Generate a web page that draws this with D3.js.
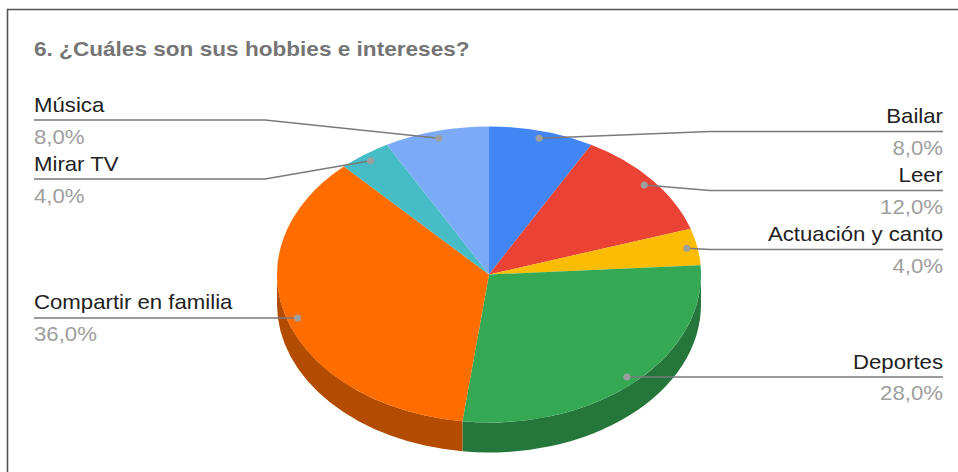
<!DOCTYPE html>
<html>
<head>
<meta charset="utf-8">
<script src="https://cdn.jsdelivr.net/npm/d3@7"></script>
<style>
  html, body { margin: 0; padding: 0; background: #fff; }
  svg { display: block; font-family: "Liberation Sans", Arial, sans-serif; }
</style>
</head>
<body>
<svg id="chart" width="958" height="472"></svg>
<script>
// Survey answers, clockwise from 12 o'clock
const categories = ["Bailar", "Leer", "Actuación y canto", "Deportes", "Compartir en familia", "Mirar TV", "Música"];
const values = [8, 12, 4, 28, 36, 4, 8];
const colors = ["#4285f4", "#ea4335", "#fbbc04", "#34a853", "#ff6d01", "#46bdc6", "#7baaf7"];
const title = "6. ¿Cuáles son sus hobbies e intereses?";

const W = 958, H = 472;
const svg = d3.select("#chart");

// Frame
svg.append("path")
  .attr("d", `M7.5,${H} L7.5,9.5 L${W},9.5`)
  .attr("fill", "none").attr("stroke", "#555").attr("stroke-width", 1.6);

// Title (slightly widened glyphs)
svg.append("g").attr("transform", "translate(34,56) scale(1.13,1)")
  .append("text").text(title)
  .attr("font-size", 20).attr("font-weight", "bold").attr("fill", "#757575");

// Pie geometry: tilted disc drawn as a circle squashed vertically
const cx = 489, cy = 274.5, rx = 212, ry = 148, depth = 30;
const k = ry / rx;
const total = d3.sum(values);
const locale = d3.formatLocale({ decimal: ",", thousands: ".", grouping: [3], currency: ["", "€"] });
const fmt = locale.format(".1f");

const arcs = d3.pie().sort(null).value(d => d)(values);
const arcGen = d3.arc().innerRadius(0).outerRadius(rx);

const disc = svg.append("g").attr("transform", `translate(${cx},${cy}) scale(1,${k})`);

// Side wall: only the front half (90°..270°) is visible
const D = depth / k;
const sides = disc.append("g");
arcs.forEach((a, i) => {
  const a0 = Math.max(a.startAngle, Math.PI / 2);
  const a1 = Math.min(a.endAngle, 3 * Math.PI / 2);
  if (a1 <= a0) return;
  const p = d3.path();
  p.moveTo(rx * Math.sin(a0), -rx * Math.cos(a0));
  p.arc(0, 0, rx, a0 - Math.PI / 2, a1 - Math.PI / 2, false);
  p.lineTo(rx * Math.sin(a1), -rx * Math.cos(a1) + D);
  p.arc(0, D, rx, a1 - Math.PI / 2, a0 - Math.PI / 2, true);
  p.closePath();
  sides.append("path").attr("d", p.toString())
    .attr("fill", d3.color(colors[i]).darker(1).formatHex());
});

// Top surface
disc.append("g").selectAll("path").data(arcs).join("path")
  .attr("d", arcGen)
  .attr("fill", (d, i) => colors[i]);

// Leader dots at the middle of each slice
const labels = arcs.map((a, i) => {
  const m = (a.startAngle + a.endAngle) / 2;
  return {
    name: categories[i],
    pct: fmt(values[i] / total * 100) + "%",
    dx: cx + 0.95 * rx * Math.sin(m),
    dy: cy - 0.95 * ry * Math.cos(m),
    right: m < Math.PI
  };
});

// Spread labels vertically on each side so they keep a minimum gap
const gap = 59;
function spread(list) {
  list.sort((a, b) => a.dy - b.dy);
  list.forEach(l => l.y = l.dy);
  for (let iter = 0; iter < 200; iter++) {
    let moved = false;
    for (let j = 1; j < list.length; j++) {
      const o = gap - (list[j].y - list[j - 1].y);
      if (o > 0.01) {
        list[j - 1].y -= o / 2; list[j].y += o / 2; moved = true;
      }
    }
    if (!moved) break;
  }
}
spread(labels.filter(l => l.right));
spread(labels.filter(l => !l.right));

const leftX = 34, rightX = 943, leftElbow = 265, rightElbow = 710;
const lineColor = "#7a7a7a";

const lg = svg.append("g");
labels.forEach(l => {
  const textX = l.right ? rightX : leftX;
  const elbow = l.right ? rightElbow : leftElbow;
  lg.append("path")
    .attr("d", `M${l.dx},${l.dy} L${elbow},${l.y} L${textX},${l.y}`)
    .attr("fill", "none").attr("stroke", lineColor).attr("stroke-width", 1.5);
  lg.append("circle").attr("cx", l.dx).attr("cy", l.dy).attr("r", 3.5).attr("fill", "#9e9e9e");

  const g = lg.append("g").attr("transform", `translate(${textX},${l.y}) scale(1.11,1)`);
  const anchor = l.right ? "end" : "start";
  g.append("text").text(l.name).attr("y", -8.5)
    .attr("text-anchor", anchor).attr("font-size", 20).attr("fill", "#222");
  g.append("text").text(l.pct).attr("y", 23.5)
    .attr("text-anchor", anchor).attr("font-size", 20).attr("fill", "#9e9e9e");
});
</script>
</body>
</html>
